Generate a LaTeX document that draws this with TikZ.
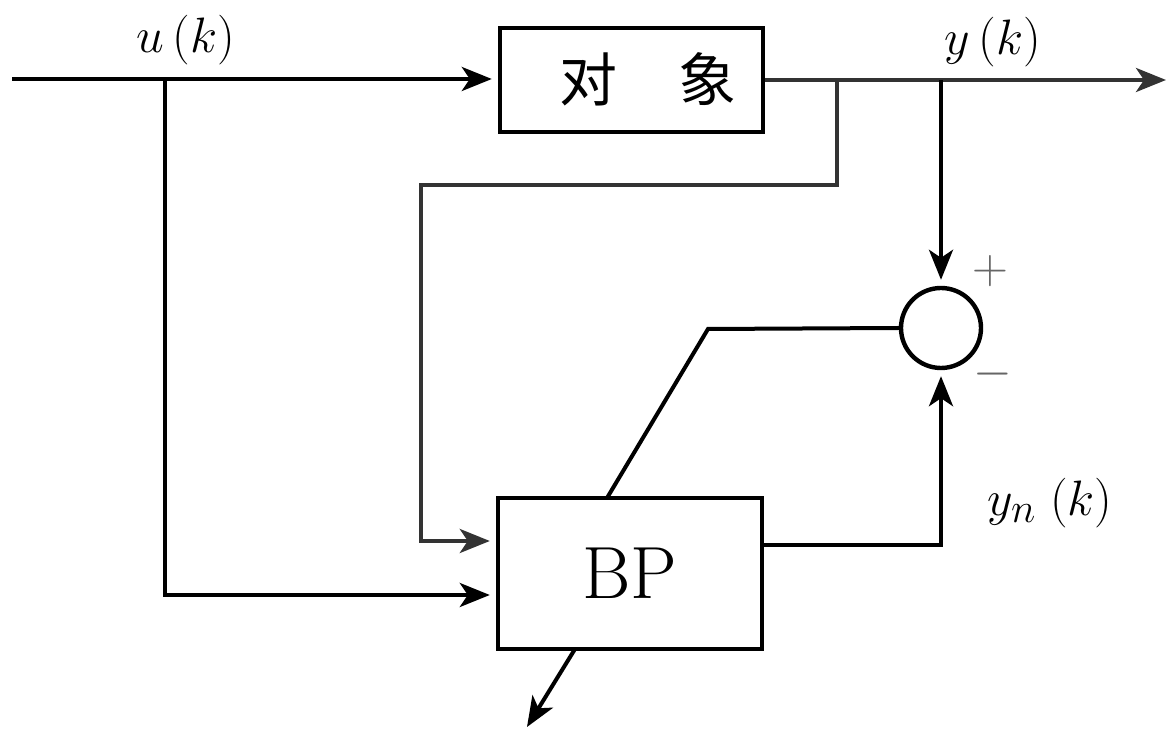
\documentclass[tikz,border=0pt]{standalone}
\usepackage{fontspec}
\newfontfamily\cjk{Noto Sans CJK SC}
\usetikzlibrary{arrows.meta,calc}
\begin{document}
\begin{tikzpicture}[x=0.5pt,y=-0.5pt,
  line width=2pt,
  conn/.style={draw=black,line width=2pt},
  arr/.style={conn,-{Stealth[length=15pt,width=12pt,inset=4pt]},shorten >=3pt},
  blockbox/.style={draw=black,line width=2.2pt,rectangle,inner sep=0pt},
  lbl/.style={inner sep=0pt,font=\fontsize{32}{36}\selectfont},
  sgn/.style={inner sep=0pt,font=\fontsize{24}{28}\selectfont,text=black!60}]
\useasboundingbox (0,0) rectangle (1174,731);
\fill[white] (0,0) rectangle (1174,731);
% blocks
\node[blockbox,minimum width=131.5pt,minimum height=52pt] (plant) at (631.5,80) {};
\node[inner sep=0pt,font=\cjk\fontsize{29}{32}\selectfont] (plantlbl) at (648,79) {对\hspace{31pt}象};
\node[blockbox,minimum width=132pt,minimum height=75.5pt,font=\fontsize{37}{40}\selectfont] (bp) at (630,573.5) {BP};
\node[draw=black,line width=2.2pt,circle,minimum size=40pt,inner sep=0pt] (sum) at (941,328) {};
% coordinates
\coordinate (in) at (12,79);
\coordinate (uj) at (165,79);
\coordinate (ul) at (165,595);
\coordinate (out) at (1172,80);
\coordinate (fj) at (837,80);
\coordinate (fa) at (837,185);
\coordinate (fb) at (421,185);
\coordinate (fc) at (421,541);
\coordinate (yj) at (941,80);
\coordinate (bo) at (941,545);
\coordinate (ek) at (708,329);
\coordinate (et) at (607,498);
\coordinate (bs) at (575,649);
\coordinate (bt) at (527,727);
% connectors
\draw[arr] (in) -- (plant.west |- in);
\draw[arr] (uj) -- (ul) -- (bp.west |- ul);
\draw[arr,draw=black!80] (plant.east |- out) -- (out);
\draw[arr,draw=black!80] (fj) -- (fa) -- (fb) -- (fc) -- (bp.west |- fc);
\draw[arr] (yj) -- (sum.north);
\draw[arr] (bp.east |- bo) -- (bo) -- (sum.south);
\draw[conn] (sum.west) -- (ek) -- (et);
\draw[arr,shorten >=0pt] (bs) -- (bt);
% labels
\node[lbl] (ulbl) at (186,40) {$u\,(k)$};
\node[lbl] (ylbl) at (993,42) {$y\,(k)$};
\node[lbl] (ynlbl) at (1050,503) {$y_{n}\;(k)$};
\node[sgn] (plus) at (990,271) {$+$};
\node[sgn] (minus) at (993,374) {$-$};
\end{tikzpicture}
\end{document}
